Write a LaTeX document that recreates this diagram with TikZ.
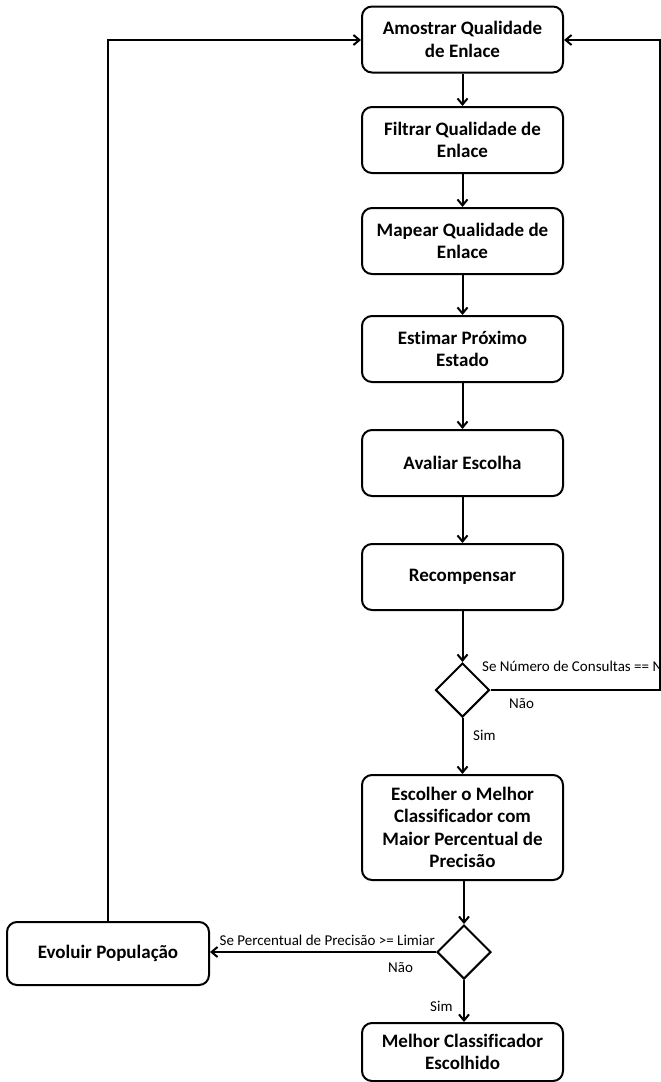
\documentclass[tikz,border=0pt]{standalone}
\usepackage{fontspec}
\setmainfont{Carlito}[Ligatures=NoCommon]
\usetikzlibrary{shapes.geometric,arrows.meta}
\begin{document}
\begin{tikzpicture}[x=1pt,y=-1pt,
  stepbox/.style={draw,line width=2pt,rounded corners=10pt,minimum width=201pt,
    minimum height=66pt,align=center,font=\bfseries\fontsize{19}{22.5}\selectfont,inner sep=2pt},
  decision/.style={draw,line width=2pt,diamond,minimum width=54pt,minimum height=54pt,inner sep=0pt},
  flow/.style={line width=2pt,-{Straight Barb[length=6pt,width=10pt,line width=2pt]}},
  lbl/.style={font=\fontsize{15}{17}\selectfont,inner sep=0pt}]
\useasboundingbox (0,0) rectangle (661,1082);
\begin{scope}
\clip (0,0) rectangle (661,1082);
% main column of steps
\node[stepbox] (amostrar) at (462.5,39.5) {Amostrar Qualidade\\de Enlace};
\node[stepbox] (filtrar) at (462.5,140) {Filtrar Qualidade de\\Enlace};
\node[stepbox] (mapear) at (462.5,241) {Mapear Qualidade de\\Enlace};
\node[stepbox] (estimar) at (462.5,349) {Estimar Próximo\\Estado};
\node[stepbox] (avaliar) at (462.5,463) {Avaliar Escolha};
\node[stepbox] (recomp) at (462.5,577) {Recompensar};
\node[decision] (d1) at (462.5,690) {};
\node[stepbox,minimum height=105pt] (escolher) at (462.5,827.5)
  {Escolher o Melhor\\Classificador com\\Maior Percentual de\\Precisão};
\node[decision] (d2) at (464,952) {};
\node[stepbox,minimum height=58pt] (melhor) at (462.5,1052) {Melhor Classificador\\Escolhido};
\node[stepbox,minimum width=202pt,minimum height=63pt] (evoluir) at (108,953.5) {Evoluir População};
% loop-back corners
\coordinate (r1) at (660,690);
\coordinate (r2) at (660,40);
\coordinate (l1) at (108,40);
% connectors
\draw[flow] (amostrar) -- (filtrar);
\draw[flow] (filtrar) -- (mapear);
\draw[flow] (mapear) -- (estimar);
\draw[flow] (estimar) -- (avaliar);
\draw[flow] (avaliar) -- (recomp);
\draw[flow] (recomp) -- (d1.north);
\draw[flow] (d1.south) -- (escolher);
\draw[flow] (escolher.south -| d2.north) -- (d2.north);
\draw[flow] (d2.south) -- (melhor.north -| d2.south);
\draw[flow] (d2.west) -- (evoluir.east |- d2.west);
\draw[flow] (d1.east) -- (r1) -- (r2) -- (amostrar.east |- r2);
\draw[flow] (evoluir.north) -- (l1) -- (amostrar.west |- l1);
% branch labels
\node[lbl,anchor=west] (c1) at (482,666) {Se Número de Consultas == N};
\node[lbl,anchor=west] (n1) at (509,704) {Não};
\node[lbl,anchor=west] (s1) at (473,735) {Sim};
\node[lbl,anchor=east] (c2) at (435,940) {Se Percentual de Precisão >= Limiar};
\node[lbl,anchor=west] (n2) at (388,968) {Não};
\node[lbl,anchor=west] (s2) at (430,1006) {Sim};
\end{scope}
\end{tikzpicture}
\end{document}
